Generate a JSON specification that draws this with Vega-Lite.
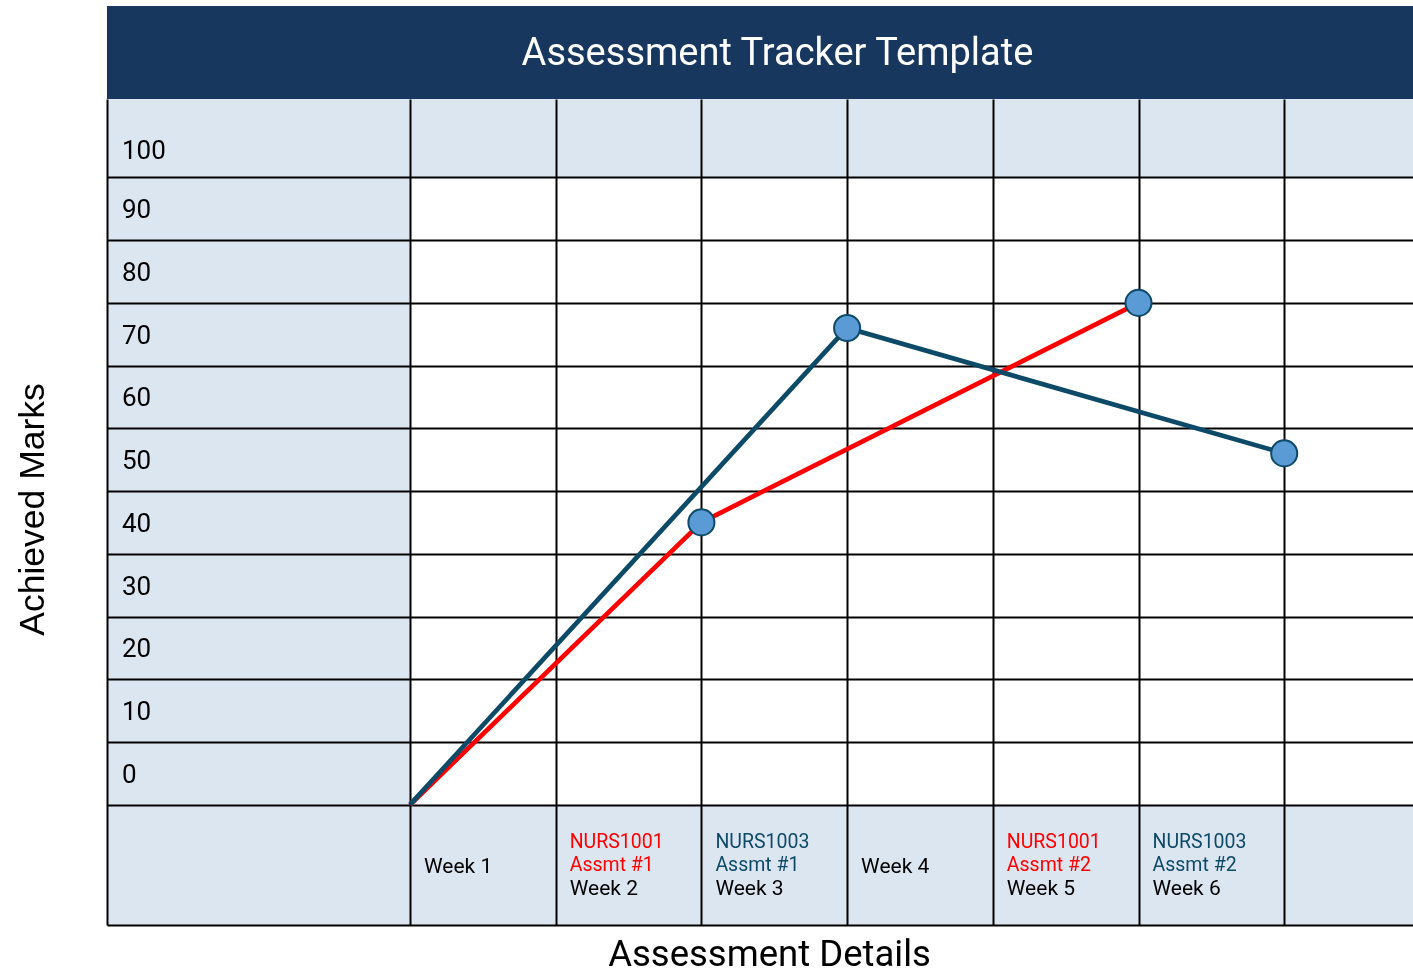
{
  "$schema": "https://vega.github.io/schema/vega-lite/v6.json",
  "width": 1306,
  "height": 826,
  "autosize": {"type": "none"},
  "padding": {"left": 107, "top": 99, "right": 0, "bottom": 50},
  "background": "white",
  "config": {"view": {"stroke": null}, "font": "Roboto"},
  "datasets": {
    "scores": [
      {"course": "NURS1001", "week": 0, "marks": 0},
      {"course": "NURS1001", "week": 2, "marks": 45},
      {"course": "NURS1001", "week": 5, "marks": 80},
      {"course": "NURS1003", "week": 0, "marks": 0},
      {"course": "NURS1003", "week": 3, "marks": 76},
      {"course": "NURS1003", "week": 6, "marks": 56}
    ],
    "weeks": [
      {"weekStart": 0, "week": "Week 1", "course": "", "assessment": ""},
      {"weekStart": 1, "week": "Week 2", "course": "NURS1001", "assessment": "Assmt #1"},
      {"weekStart": 2, "week": "Week 3", "course": "NURS1003", "assessment": "Assmt #1"},
      {"weekStart": 3, "week": "Week 4", "course": "", "assessment": ""},
      {"weekStart": 4, "week": "Week 5", "course": "NURS1001", "assessment": "Assmt #2"},
      {"weekStart": 5, "week": "Week 6", "course": "NURS1003", "assessment": "Assmt #2"}
    ]
  },
  "layer": [
    {
      "data": {"values": [{}]},
      "mark": {"type": "rect", "color": "#DCE6F1", "blend": "multiply"},
      "encoding": {
        "x": {
          "datum": -2.0796,
          "type": "quantitative",
          "scale": {"domain": [-2.0796, 6.884], "nice": false, "zero": false},
          "axis": {
            "title": "Assessment Details",
            "values": [0, 1, 2, 3, 4, 5, 6],
            "labels": false,
            "ticks": false,
            "tickSize": 0,
            "grid": true,
            "gridColor": "black",
            "gridWidth": 2,
            "gridOpacity": 1,
            "domain": true,
            "domainColor": "black",
            "domainWidth": 2,
            "titleFont": "Roboto",
            "titleFontSize": 36.5,
            "titleFontWeight": "normal",
            "titleColor": "black",
            "titleX": 662,
            "titleY": 40,
            "titleBaseline": "alphabetic",
            "titleAlign": "center"
          }
        },
        "x2": {"datum": 0},
        "y": {
          "datum": 0,
          "type": "quantitative",
          "scale": {"domain": [-19.18, 112.5], "nice": false, "zero": false},
          "axis": {
            "title": "Achieved Marks",
            "values": [0, 10, 20, 30, 40, 50, 60, 70, 80, 90, 100],
            "ticks": false,
            "tickSize": 0,
            "grid": true,
            "gridColor": "black",
            "gridWidth": 2,
            "gridOpacity": 1,
            "domain": true,
            "domainColor": "black",
            "domainWidth": 2,
            "labelAlign": "left",
            "labelBaseline": "alphabetic",
            "labelPadding": -14.5,
            "labelOffset": {"condition": {"test": "datum.value === 100", "value": -19.2}, "value": -22.4},
            "labelFont": "Roboto",
            "labelFontSize": 26,
            "labelColor": "black",
            "labelFlush": false,
            "labelOverlap": false,
            "titleFont": "Liberation Sans",
            "titleFontSize": 35.5,
            "titleFontWeight": "normal",
            "titleColor": "black",
            "titleAngle": -90,
            "titleX": -63.7,
            "titleY": 410,
            "titleBaseline": "alphabetic",
            "titleAlign": "center"
          }
        },
        "y2": {"datum": 100}
      }
    },
    {
      "data": {"values": [{}]},
      "mark": {"type": "rect", "color": "#DCE6F1", "blend": "multiply"},
      "encoding": {
        "y": {"datum": 100, "type": "quantitative"},
        "y2": {"datum": 112.5}
      }
    },
    {
      "data": {"values": [{}]},
      "mark": {"type": "rect", "color": "#DCE6F1", "blend": "multiply"},
      "encoding": {
        "y": {"datum": -19.18, "type": "quantitative"},
        "y2": {"datum": 0}
      }
    },
    {
      "data": {"values": [{}]},
      "mark": {"type": "rect", "color": "#17375E"},
      "encoding": {
        "y": {"datum": 112.5, "type": "quantitative"},
        "y2": {"datum": 127.34}
      }
    },
    {
      "data": {"values": [{"title": "Assessment Tracker Template"}]},
      "mark": {"type": "text", "align": "center", "baseline": "alphabetic", "font": "Roboto", "fontSize": 38, "color": "white"},
      "encoding": {
        "x": {"datum": 2.522, "type": "quantitative"},
        "y": {"datum": 117.86, "type": "quantitative"},
        "text": {"field": "title"}
      }
    },
    {
      "data": {"name": "scores"},
      "mark": {"type": "line", "strokeWidth": 4.7},
      "encoding": {
        "x": {"field": "week", "type": "quantitative"},
        "y": {"field": "marks", "type": "quantitative"},
        "color": {
          "field": "course",
          "type": "nominal",
          "scale": {"domain": ["NURS1001", "NURS1003"], "range": ["#FF0000", "#0D4A68"]},
          "legend": null
        }
      }
    },
    {
      "data": {"name": "scores"},
      "transform": [{"filter": "datum.marks > 0"}],
      "mark": {"type": "point", "shape": "circle", "filled": true, "fill": "#5B9BD5", "stroke": "#0D4A68", "strokeWidth": 2, "size": 680, "opacity": 1},
      "encoding": {
        "x": {"field": "week", "type": "quantitative"},
        "y": {"field": "marks", "type": "quantitative"}
      }
    },
    {
      "data": {"name": "weeks"},
      "transform": [{"filter": "datum.course != ''"}],
      "mark": {"type": "text", "align": "left", "baseline": "alphabetic", "dx": 14, "fontSize": 19.5, "font": "Roboto"},
      "encoding": {
        "x": {"field": "weekStart", "type": "quantitative"},
        "y": {"datum": -6.95, "type": "quantitative"},
        "text": {"field": "course"},
        "color": {"field": "course", "type": "nominal", "legend": null}
      }
    },
    {
      "data": {"name": "weeks"},
      "transform": [{"filter": "datum.course != ''"}],
      "mark": {"type": "text", "align": "left", "baseline": "alphabetic", "dx": 14, "fontSize": 19.5, "font": "Roboto"},
      "encoding": {
        "x": {"field": "weekStart", "type": "quantitative"},
        "y": {"datum": -10.65, "type": "quantitative"},
        "text": {"field": "assessment"},
        "color": {"field": "course", "type": "nominal", "legend": null}
      }
    },
    {
      "data": {"name": "weeks"},
      "transform": [{"filter": "datum.course != ''"}],
      "mark": {"type": "text", "align": "left", "baseline": "alphabetic", "dx": 14, "fontSize": 21, "font": "Roboto", "color": "black"},
      "encoding": {
        "x": {"field": "weekStart", "type": "quantitative"},
        "y": {"datum": -14.4, "type": "quantitative"},
        "text": {"field": "week"}
      }
    },
    {
      "data": {"name": "weeks"},
      "transform": [{"filter": "datum.course == ''"}],
      "mark": {"type": "text", "align": "left", "baseline": "alphabetic", "dx": 14, "fontSize": 21, "font": "Roboto", "color": "black"},
      "encoding": {
        "x": {"field": "weekStart", "type": "quantitative"},
        "y": {"datum": -10.94, "type": "quantitative"},
        "text": {"field": "week"}
      }
    }
  ]
}
